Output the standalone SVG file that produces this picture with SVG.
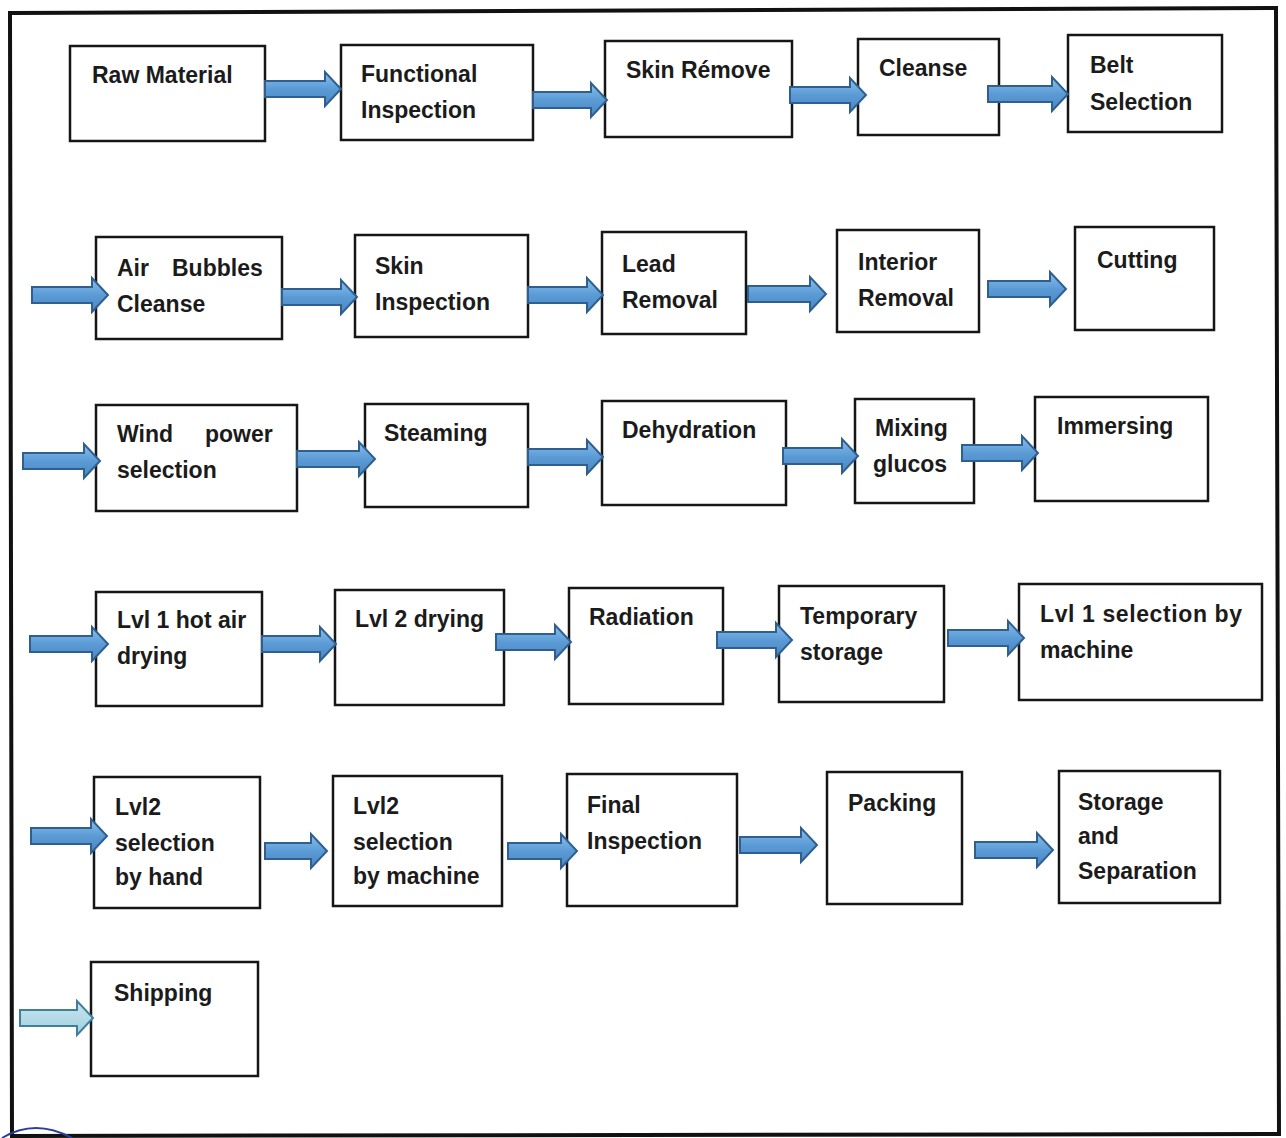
<svg xmlns="http://www.w3.org/2000/svg" width="1286" height="1138" viewBox="0 0 1286 1138">
<defs>
<linearGradient id="ag" x1="0" y1="0" x2="0" y2="1">
<stop offset="0" stop-color="#8cc0ec"/>
<stop offset="0.5" stop-color="#5b9bd5"/>
<stop offset="1" stop-color="#4a86c4"/>
</linearGradient>
<linearGradient id="ag2" x1="0" y1="0" x2="0" y2="1">
<stop offset="0" stop-color="#c9e6ef"/>
<stop offset="1" stop-color="#9fcfe0"/>
</linearGradient>
</defs>
<style>
.box{fill:#fff;stroke:#161616;stroke-width:2.5}
.t{font-family:"Liberation Sans",Arial,sans-serif;font-weight:bold;font-size:23px;fill:#1b1b1b}
.arr{fill:url(#ag);stroke:#2f5f8f;stroke-width:2;stroke-linejoin:miter}
.arr2{fill:url(#ag2);stroke:#3f7f9a;stroke-width:2}
</style>
<rect x="0" y="0" width="1286" height="1138" fill="#fff"/>
<polygon points="10,13 1276,8 1279,1134 12,1136" fill="none" stroke="#111" stroke-width="4"/>
<path d="M2,1138 Q35,1118 72,1138" fill="none" stroke="#2b3f9a" stroke-width="2"/>

<g id="n-raw"><rect class="box" x="70" y="46" width="195" height="95"/><text class="t" x="92" y="83">Raw Material</text></g>
<g id="n-functional"><rect class="box" x="341" y="45" width="192" height="95"/><text class="t" x="361" y="82">Functional</text><text class="t" x="361" y="118">Inspection</text></g>
<g id="n-skinremove"><rect class="box" x="605" y="41" width="187" height="96"/><text class="t" x="626" y="78">Skin Rémove</text></g>
<g id="n-cleanse"><rect class="box" x="858" y="39" width="141" height="96"/><text class="t" x="879" y="76">Cleanse</text></g>
<g id="n-belt"><rect class="box" x="1068" y="35" width="154" height="97"/><text class="t" x="1090" y="73">Belt</text><text class="t" x="1090" y="110">Selection</text></g>

<g id="n-airbubbles"><rect class="box" x="96" y="237" width="186" height="102"/><text class="t" x="117" y="276">Air</text><text class="t" x="172" y="276">Bubbles</text><text class="t" x="117" y="312">Cleanse</text></g>
<g id="n-skininspection"><rect class="box" x="355" y="235" width="173" height="102"/><text class="t" x="375" y="274">Skin</text><text class="t" x="375" y="310">Inspection</text></g>
<g id="n-lead"><rect class="box" x="602" y="232" width="144" height="102"/><text class="t" x="622" y="272">Lead</text><text class="t" x="622" y="308">Removal</text></g>
<g id="n-interior"><rect class="box" x="837" y="230" width="142" height="102"/><text class="t" x="858" y="270">Interior</text><text class="t" x="858" y="306">Removal</text></g>
<g id="n-cutting"><rect class="box" x="1075" y="227" width="139" height="103"/><text class="t" x="1097" y="268">Cutting</text></g>

<g id="n-wind"><rect class="box" x="96" y="405" width="201" height="106"/><text class="t" x="117" y="442">Wind</text><text class="t" x="205" y="442">power</text><text class="t" x="117" y="478">selection</text></g>
<g id="n-steaming"><rect class="box" x="365" y="404" width="163" height="103"/><text class="t" x="384" y="441">Steaming</text></g>
<g id="n-dehydration"><rect class="box" x="602" y="401" width="184" height="104"/><text class="t" x="622" y="438">Dehydration</text></g>
<g id="n-mixing"><rect class="box" x="855" y="399" width="119" height="104"/><text class="t" x="875" y="436">Mixing</text><text class="t" x="873" y="472">glucos</text></g>
<g id="n-immersing"><rect class="box" x="1035" y="397" width="173" height="104"/><text class="t" x="1057" y="434">Immersing</text></g>

<g id="n-lvl1hot"><rect class="box" x="96" y="592" width="166" height="114"/><text class="t" x="117" y="628">Lvl 1 hot air</text><text class="t" x="117" y="664">drying</text></g>
<g id="n-lvl2drying"><rect class="box" x="335" y="590" width="169" height="115"/><text class="t" x="355" y="627">Lvl 2 drying</text></g>
<g id="n-radiation"><rect class="box" x="569" y="588" width="154" height="116"/><text class="t" x="589" y="625">Radiation</text></g>
<g id="n-temporary"><rect class="box" x="779" y="586" width="165" height="116"/><text class="t" x="800" y="624">Temporary</text><text class="t" x="800" y="660">storage</text></g>
<g id="n-lvl1machine"><rect class="box" x="1019" y="584" width="243" height="116"/><text class="t" x="1040" y="622" textLength="202">Lvl 1 selection by</text><text class="t" x="1040" y="658">machine</text></g>

<g id="n-lvl2hand"><rect class="box" x="94" y="777" width="166" height="131"/><text class="t" x="115" y="815">Lvl2</text><text class="t" x="115" y="851">selection</text><text class="t" x="115" y="885">by hand</text></g>
<g id="n-lvl2machine"><rect class="box" x="333" y="776" width="169" height="130"/><text class="t" x="353" y="814">Lvl2</text><text class="t" x="353" y="850">selection</text><text class="t" x="353" y="884">by machine</text></g>
<g id="n-final"><rect class="box" x="567" y="774" width="170" height="132"/><text class="t" x="587" y="813">Final</text><text class="t" x="587" y="849">Inspection</text></g>
<g id="n-packing"><rect class="box" x="827" y="772" width="135" height="132"/><text class="t" x="848" y="811">Packing</text></g>
<g id="n-storage"><rect class="box" x="1059" y="771" width="161" height="132"/><text class="t" x="1078" y="810">Storage</text><text class="t" x="1078" y="844">and</text><text class="t" x="1078" y="879">Separation</text></g>

<g id="n-shipping"><rect class="box" x="91" y="962" width="167" height="114"/><text class="t" x="114" y="1001">Shipping</text></g>

<g id="connectors">
<path class="arr" d="M265,81 L325,81 L325,72 L341,89 L325,106 L325,97 L265,97 Z"/>
<path class="arr" d="M533,92 L591,92 L591,83 L607,100 L591,117 L591,108 L533,108 Z"/>
<path class="arr" d="M790,87 L850,87 L850,78 L866,95 L850,112 L850,103 L790,103 Z"/>
<path class="arr" d="M988,86 L1052,86 L1052,77 L1068,94 L1052,111 L1052,102 L988,102 Z"/>

<path class="arr" d="M32,287 L92,287 L92,278 L108,295 L92,312 L92,303 L32,303 Z"/>
<path class="arr" d="M282,289 L341,289 L341,280 L357,297 L341,314 L341,305 L282,305 Z"/>
<path class="arr" d="M528,287 L587,287 L587,278 L603,295 L587,312 L587,303 L528,303 Z"/>
<path class="arr" d="M748,286 L810,286 L810,277 L826,294 L810,311 L810,302 L748,302 Z"/>
<path class="arr" d="M988,281 L1050,281 L1050,272 L1066,289 L1050,306 L1050,297 L988,297 Z"/>

<path class="arr" d="M23,453 L84,453 L84,444 L100,461 L84,478 L84,469 L23,469 Z"/>
<path class="arr" d="M297,451 L359,451 L359,442 L375,459 L359,476 L359,467 L297,467 Z"/>
<path class="arr" d="M528,449 L587,449 L587,440 L603,457 L587,474 L587,465 L528,465 Z"/>
<path class="arr" d="M783,448 L842,448 L842,439 L858,456 L842,473 L842,464 L783,464 Z"/>
<path class="arr" d="M962,445 L1022,445 L1022,436 L1038,453 L1022,470 L1022,461 L962,461 Z"/>

<path class="arr" d="M30,636 L92,636 L92,627 L108,644 L92,661 L92,652 L30,652 Z"/>
<path class="arr" d="M262,636 L320,636 L320,627 L336,644 L320,661 L320,652 L262,652 Z"/>
<path class="arr" d="M496,634 L555,634 L555,625 L571,642 L555,659 L555,650 L496,650 Z"/>
<path class="arr" d="M717,632 L776,632 L776,623 L792,640 L776,657 L776,648 L717,648 Z"/>
<path class="arr" d="M948,630 L1008,630 L1008,621 L1024,638 L1008,655 L1008,646 L948,646 Z"/>

<path class="arr" d="M31,828 L91,828 L91,819 L107,836 L91,853 L91,844 L31,844 Z"/>
<path class="arr" d="M265,843 L311,843 L311,834 L327,851 L311,868 L311,859 L265,859 Z"/>
<path class="arr" d="M508,843 L561,843 L561,834 L577,851 L561,868 L561,859 L508,859 Z"/>
<path class="arr" d="M740,837 L801,837 L801,828 L817,845 L801,862 L801,853 L740,853 Z"/>
<path class="arr" d="M975,842 L1037,842 L1037,833 L1053,850 L1037,867 L1037,858 L975,858 Z"/>

<path class="arr2" d="M20,1010 L77,1010 L77,1001 L93,1018 L77,1035 L77,1026 L20,1026 Z"/>
</g>
</svg>
